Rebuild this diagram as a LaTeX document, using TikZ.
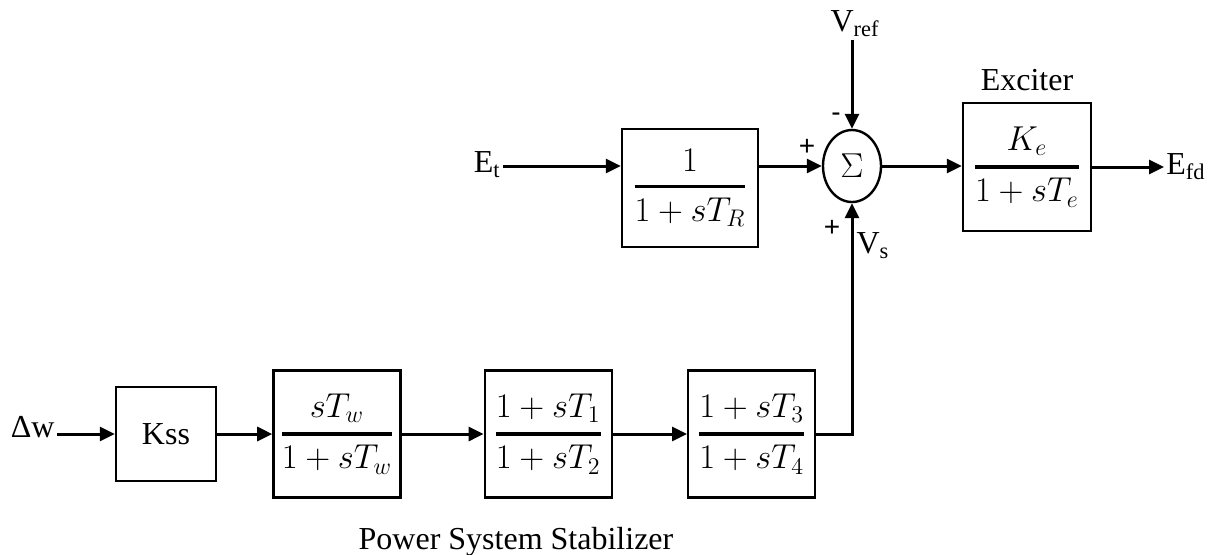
\documentclass[tikz,border=0pt]{standalone}
\usepackage{amsmath}
\usepackage{fontspec}
\setmainfont{Liberation Serif}
\newfontfamily\signfont{Liberation Sans}
\usetikzlibrary{positioning, arrows.meta, shapes.geometric}

\newcommand{\blockfrac}[2]{$\genfrac{}{}{1.6pt}{0}{#1}{#2}$}

\begin{document}
\begin{tikzpicture}[
    x=0.5pt, y=-0.5pt,
    font=\fontsize{16}{19}\selectfont,
    block/.style={rectangle, draw, line width=1.2pt, minimum width=63.5pt, minimum height=63.5pt, inner sep=0pt, align=center, font=\fontsize{17}{20}\selectfont},
    sumnode/.style={ellipse, draw, line width=1.2pt, minimum width=29pt, minimum height=36pt, inner sep=0pt, font=\fontsize{18}{20}\selectfont},
    lbl/.style={inner sep=1pt},
    sign/.style={inner sep=0pt, font=\signfont\fontsize{14}{16}\selectfont},
    arrow/.style={-{Triangle[length=7.5pt, width=7pt]}, line width=1.5pt}
]
\useasboundingbox (0,0) rectangle (1211,554);

% Exciter loop
\node[sumnode] (sum) at (852,166) {$\Sigma$};
\node[block, minimum width=68pt, minimum height=59pt] (tr) at (690,188) {\blockfrac{1}{1+sT_R}};
\node[block, minimum width=64pt, minimum height=64pt] (exc) at (1027,167) {\blockfrac{K_e}{1+sT_e}};
\node[lbl] (exclbl) at (1027,80) {Exciter};
\node[lbl, anchor=east] (et) at (503,165) {E\textsubscript{t}};
\node[lbl, anchor=west] (efd) at (1164,167) {E\textsubscript{fd}};
\node[lbl] (vref) at (855,24) {V\textsubscript{ref}};
\node[lbl] (vs) at (873,246) {V\textsubscript{s}};
\node[sign] (mref) at (836,117) {-};
\node[sign] (pin) at (807,147) {+};
\node[sign] (pvs) at (832,228) {+};

% Power System Stabilizer
\node[block, minimum width=50pt, minimum height=47pt, font=\fontsize{16}{19}\selectfont] (kss) at (166,434) {Kss};
\node[block, right=27.5pt of kss] (tw) {\blockfrac{sT_w}{1+sT_w}};
\node[block, right=41pt of tw] (t1) {\blockfrac{1+sT_1}{1+sT_2}};
\node[block, right=37pt of t1] (t3) {\blockfrac{1+sT_3}{1+sT_4}};
\node[lbl, anchor=base east] (dw) at (57,437) {Δw};
\node[lbl, anchor=base] (pss) at (516,549) {Power System Stabilizer};

% Arrows
\draw[arrow] (et.east |- sum) -- (sum -| tr.west);
\draw[arrow] (tr.east |- sum) -- (sum.west);
\draw[arrow] (sum.east) -- (sum.east -| exc.west);
\draw[arrow] (exc.east) -- (efd.west);
\draw[arrow] (vref.south -| sum) -- (sum.north);
\draw[arrow] (t3.east) -| (sum.south);
\draw[arrow] (dw.east |- kss.west) -- (kss.west);
\draw[arrow] (kss) -- (tw);
\draw[arrow] (tw) -- (t1);
\draw[arrow] (t1) -- (t3);

\end{tikzpicture}
\end{document}
